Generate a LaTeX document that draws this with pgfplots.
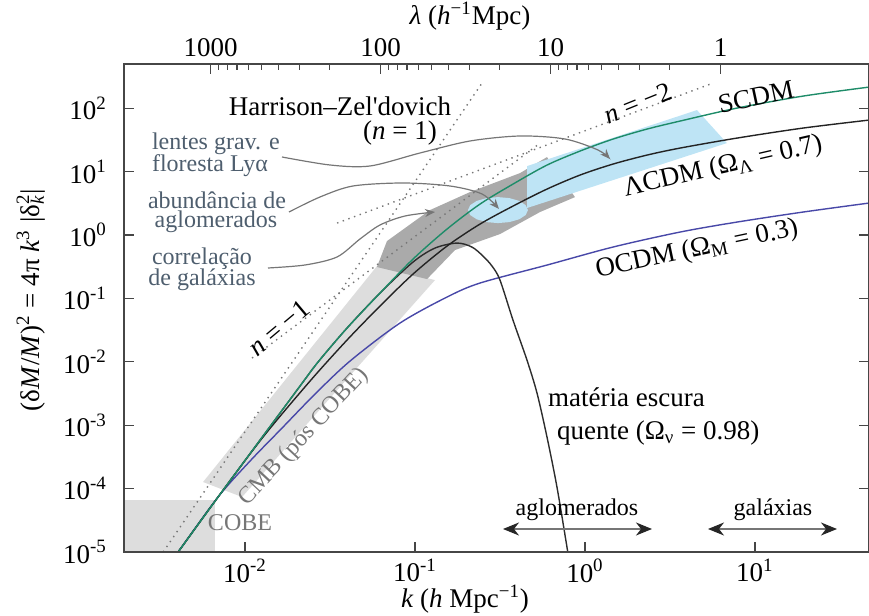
\documentclass[border=0pt]{standalone}
\usepackage{fontspec}
\setmainfont{Liberation Serif}
\usepackage{pgfplots}
\pgfplotsset{compat=1.18}
\usetikzlibrary{arrows.meta}

\definecolor{scdm}{RGB}{30,140,105}
\definecolor{ocdm}{RGB}{72,72,168}
\definecolor{hdm}{RGB}{45,45,45}
\definecolor{lcdm}{RGB}{35,35,35}
\definecolor{cmbgray}{RGB}{221,221,221}
\definecolor{lssgray}{RGB}{170,170,170}
\definecolor{lensblue}{RGB}{190,228,245}
\definecolor{notegray}{RGB}{118,118,118}
\definecolor{noteblue}{RGB}{78,94,110}
\definecolor{framegray}{RGB}{70,70,70}

\newcommand\mainsize{\fontsize{13.5pt}{16pt}\selectfont}
\newcommand\notesize{\fontsize{12pt}{12pt}\selectfont}

\begin{document}
\begin{tikzpicture}
% k axis (bottom) and amplitude axis (left)
\begin{axis}[
  scale only axis, width=372.5pt, height=244pt,
  at={(0,0)}, anchor=south west,
  xmode=log, ymode=log, log basis x=10, log basis y=10,
  xmin=0.00194, xmax=46.9, ymin=1e-5, ymax=500,
  axis on top,
  axis line style={framegray, line width=0.7pt},
  tick style={framegray, line width=0.6pt},
  major tick length=5pt, minor tick length=3pt,
  xtick pos=bottom, ytick pos=left,
  xtick={0.01,0.1,1,10},
  xticklabels={10\textsuperscript{-2},10\textsuperscript{-1},10\textsuperscript{0},10\textsuperscript{1}},
  ytick={1e-5,1e-4,1e-3,1e-2,1e-1,1,10,100},
  yticklabels={10\textsuperscript{-5},10\textsuperscript{-4},10\textsuperscript{-3},10\textsuperscript{-2},10\textsuperscript{-1},10\textsuperscript{0},10\textsuperscript{1},10\textsuperscript{2}},
  tick label style={font=\mainsize},
  yticklabel style={xshift=-5pt},
]
% COBE box
\addplot[fill=cmbgray, draw=none] coordinates {(0.001,1e-6) (0.00667,1e-6) (0.00667,6.6e-5) (0.001,6.6e-5)} -- cycle;
% CMB (post-COBE) band
\addplot[fill=cmbgray, draw=none] coordinates {(0.00566,1.27e-4) (0.009603,7.37e-5) (0.1311,0.1951) (0.0597,0.324)} -- cycle;
% galaxy correlation region
\addplot[fill=lssgray, draw=none] coordinates {
 (0.0597,0.313) (0.0684,0.804) (0.1225,2.48) (0.2107,4.77) (0.4150,9.51)
 (0.5977,17.0) (0.8733,3.974) (0.5435,2.306) (0.3162,1.037) (0.1719,0.580) (0.1177,0.2023)} -- cycle;
% lensing + Lyman-alpha forest region
\addplot[fill=lensblue, draw=none] coordinates {(0.456,12.25) (4.56,93.7) (6.84,28.25) (0.456,2.67)} -- cycle;
% cluster abundance ellipse
\addplot[fill=lensblue, draw=none] coordinates {
 (0.4619,2.477) (0.4478,2.969) (0.4101,3.459) (0.3592,3.832) (0.3076,3.972) (0.2633,3.832)
 (0.2308,3.459) (0.2113,2.969) (0.2049,2.477) (0.2113,2.068) (0.2308,1.774) (0.2633,1.602)
 (0.3076,1.545) (0.3592,1.602) (0.4101,1.774) (0.4478,2.068)} -- cycle;

% power-law reference lines
\addplot[notegray, line width=0.7pt, dash pattern=on 0.7pt off 2.3pt] coordinates {(0.0033,1e-5) (0.2477,249.7)};
\addplot[notegray, line width=0.7pt, dash pattern=on 0.7pt off 2.3pt] coordinates {(0.0110,0.01148) (0.543,28.05)};
\addplot[notegray, line width=0.7pt, dash pattern=on 0.7pt off 2.3pt] coordinates {(0.0348,1.546) (5.66,249.6)};

% OCDM
\addplot[ocdm, line width=0.7pt, smooth] coordinates {
 (0.0038,7.8e-6) (0.00404,1e-5) (0.006937,7.37e-5) (0.010700,2.724e-4) (0.016509,9.032e-4) (0.025813,3.105e-3)
 (0.041465,0.010294) (0.08161,0.04093) (0.1542,0.1052) (0.2412,0.1750) (0.5977,0.3365)
 (1.461,0.6471) (3.622,1.115) (7.836,1.603) (19.16,2.306) (46.84,3.198)};
% HDM
\addplot[hdm, line width=0.7pt, smooth] coordinates {
 (0.0038,7.8e-6) (0.00404,1e-5) (0.006937,7.37e-5) (0.012759,6.755e-4) (0.021062,4.151e-3) (0.026885,9.927e-3)
 (0.039811,0.03411) (0.062234,0.12167) (0.0973,0.3751) (0.1311,0.6237) (0.1767,0.748) (0.2163,0.647) (0.2512,0.4664)
 (0.2838,0.3243) (0.3162,0.1950) (0.3771,0.0456) (0.4557,0.01067) (0.5220,3.22e-3)
 (0.5977,6.52e-4) (0.6842,1.06e-4) (0.7835,1.2e-5) (0.8048,7.5e-6)};
% LCDM
\addplot[lcdm, line width=0.7pt, smooth] coordinates {
 (0.0038,7.8e-6) (0.00404,1e-5) (0.006937,7.37e-5) (0.012759,6.514e-4) (0.024124,4.979e-3) (0.039811,0.022071)
 (0.062234,0.075874) (0.097321,0.24258) (0.15426,0.67084) (0.24119,1.4907) (0.37717,2.8675) (0.59775,5.3163)
 (0.93458,8.8403) (1.4611,13.18) (2.3158,18.27) (3.6208,23.56) (7.8365,33.88) (19.157,48.73) (46.84,65.16)};
% SCDM
\addplot[scdm, line width=0.7pt, smooth] coordinates {
 (0.0038,7.8e-6) (0.00404,1e-5) (0.006937,7.37e-5) (0.012759,6.755e-4) (0.021062,4.151e-3) (0.026885,9.927e-3)
 (0.039811,0.03411) (0.062234,0.12167) (0.097321,0.41818) (0.15426,1.2437) (0.24119,3.0828) (0.37717,6.374)
 (0.59775,12.712) (0.93458,21.136) (1.4611,32.67) (2.3158,46.97) (3.6208,62.83) (7.8365,100.7) (19.157,155.7) (46.84,215.9)};
\end{axis}

% wavelength axis (top) and plain ticks on the right
\begin{axis}[
  scale only axis, width=372.5pt, height=244pt,
  at={(0,0)}, anchor=south west,
  xmode=log, ymode=log, x dir=reverse,
  xmin=0.13397, xmax=3238.8, ymin=1e-5, ymax=500,
  axis x line*=top, axis y line*=right,
  axis line style={framegray, line width=0.7pt},
  tick style={framegray, line width=0.6pt},
  major tick length=5pt, minor tick length=3pt,
  tick align=inside,
  xtick={1,10,100,1000}, xticklabels={1,10,100,1000},
  ytick={1e-5,1e-4,1e-3,1e-2,1e-1,1,10,100}, yticklabels={}, yminorticks=false,
  tick label style={font=\mainsize},
]
\end{axis}

% labels and annotations, positioned on a grid of 0.5pt units from the top-left corner
\begin{scope}[x=0.5pt, y=-0.5pt, shift={(-62pt,276pt)}]
  \node[font=\mainsize, rotate=90] at (31,300) {(δ\textit{M}/\textit{M})\textsuperscript{2} = 4π \textit{k}\textsuperscript{3} |δ\makebox[0pt][l]{\textsubscript{\textit{k}}}\textsuperscript{2}|};
  \node[font=\mainsize] at (465,599) {\textit{k} (\textit{h} Mpc\textsuperscript{−1})};
  \node[font=\mainsize] at (470,16) {\textit{λ} (\textit{h}\textsuperscript{−1}Mpc)};

  \node[font=\mainsize] at (340,106) {Harrison–Zel\textquotesingle dovich};
  \node[font=\mainsize] at (400,133) {(\textit{n} = 1)};
  \node[font=\mainsize, rotate=22] at (638,103) {\textit{n} = −2};
  \node[font=\mainsize, rotate=40] at (279,328) {\textit{n} = −1};
  \node[font=\mainsize, rotate=12] at (756,97) {SCDM};
  \node[font=\mainsize, rotate=13] at (723,167) {ΛCDM (Ω\textsubscript{Λ} = 0.7)};
  \node[font=\mainsize, rotate=12] at (697,250) {OCDM (Ω\textsubscript{M} = 0.3)};
  \node[font=\mainsize, anchor=west] at (541,397) {matéria escura};
  \node[font=\mainsize, anchor=west] at (550,433) {quente (Ω\textsubscript{ν} = 0.98)};

  \node[font=\notesize, text=notegray, rotate=47] at (304,437) {CMB (pós COBE)};
  \node[font=\notesize, text=notegray] at (240,523) {COBE};

  \node[font=\notesize, text=noteblue, anchor=west] at (145,144) {lentes grav. e};
  \node[font=\notesize, text=noteblue, anchor=west] at (145,166) {floresta Lyα};
  \node[font=\notesize, text=noteblue] at (217,200) {abundância de};
  \node[font=\notesize, text=noteblue] at (216,222) {aglomerados};
  \node[font=\notesize, text=noteblue] at (202,259) {correlação};
  \node[font=\notesize, text=noteblue] at (202,280) {de galáxias};

  \draw[notegray, line width=0.6pt, -{Stealth[length=5pt,width=4pt]}]
    plot[smooth] coordinates {(282,157) (330,165) (370,166) (420,153) (470,141) (520,136) (565,139) (598,150) (610,159)};
  \draw[notegray, line width=0.6pt, -{Stealth[length=5pt,width=4pt]}]
    plot[smooth] coordinates {(289,212) (320,197) (353,186) (403,183) (450,186) (482,194) (499,209)};
  \draw[notegray, line width=0.6pt, -{Stealth[length=5pt,width=4pt]}]
    plot[smooth] coordinates {(268,268) (305,265) (337,257) (360,239) (380,225) (405,216) (435,212)};

  \node[font=\notesize] at (577,510) {aglomerados};
  \node[font=\notesize] at (773,510) {galáxias};
  \draw[notegray, line width=0.7pt,
        {Stealth[length=8pt,width=6.5pt,inset=2.5pt,color=black!85]}-{Stealth[length=8pt,width=6.5pt,inset=2.5pt,color=black!85]}]
    (503,529) -- (652,529);
  \draw[notegray, line width=0.7pt,
        {Stealth[length=8pt,width=6.5pt,inset=2.5pt,color=black!85]}-{Stealth[length=8pt,width=6.5pt,inset=2.5pt,color=black!85]}]
    (708,529) -- (837,529);
\end{scope}

\pgfresetboundingbox
\path (-62pt,-32pt) rectangle (372.5pt,276pt);
\end{tikzpicture}
\end{document}
